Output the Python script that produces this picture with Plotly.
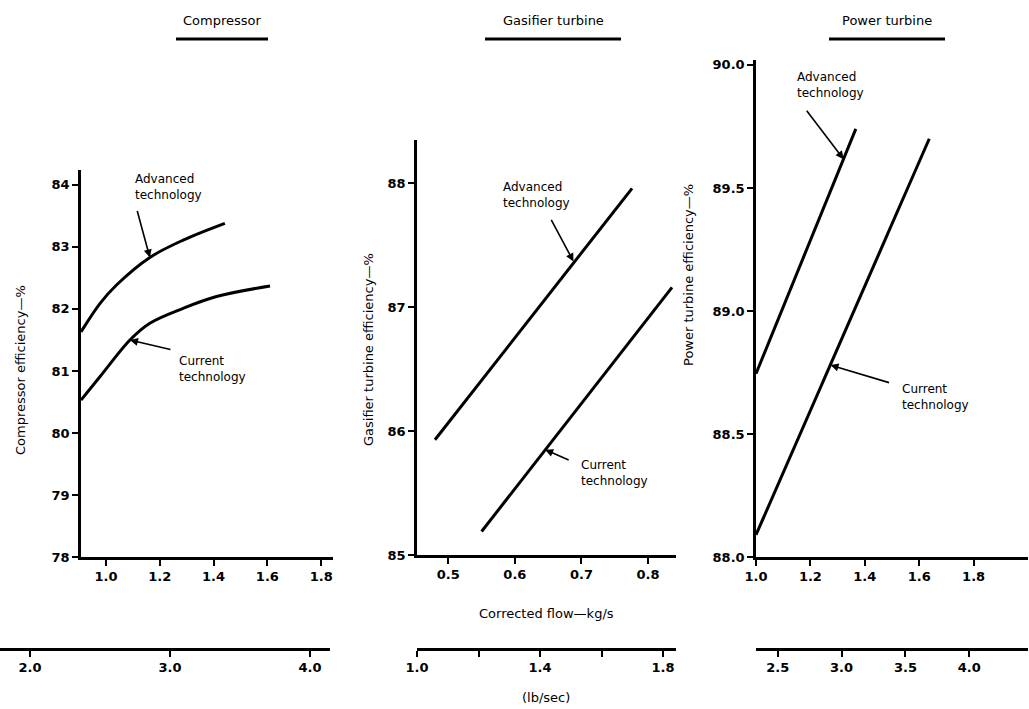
import plotly.graph_objects as go

W, H = 1029, 709

# ---------------- data ----------------
panel_titles = ["Compressor", "Gasifier turbine", "Power turbine"]

# Compressor (corrected flow kg/s vs efficiency %)
comp_adv_x = [0.907, 0.978, 1.04, 1.163, 1.287, 1.442]
comp_adv_y = [81.63, 82.09, 82.39, 82.83, 83.11, 83.38]
comp_cur_x = [0.907, 0.978, 1.089, 1.163, 1.287, 1.411, 1.61]
comp_cur_y = [80.53, 80.91, 81.50, 81.77, 82.01, 82.20, 82.37]

# Gasifier turbine
gas_adv_x = [0.48, 0.776]
gas_adv_y = [85.93, 87.96]
gas_cur_x = [0.55, 0.836]
gas_cur_y = [85.19, 87.16]

# Power turbine
pow_adv_x = [1.0, 1.367]
pow_adv_y = [88.745, 89.74]
pow_cur_x = [1.0, 1.637]
pow_cur_y = [88.09, 89.70]

# tick labels
comp_xticks = [1.0, 1.2, 1.4, 1.6, 1.8]
comp_yticks = [78, 79, 80, 81, 82, 83, 84]
gas_xticks = [0.5, 0.6, 0.7, 0.8]
gas_yticks = [85, 86, 87, 88]
pow_xticks = [1.0, 1.2, 1.4, 1.6, 1.8]
pow_yticks = [88.0, 88.5, 89.0, 89.5, 90.0]
comp_lb_ticks = [2.0, 3.0, 4.0]
gas_lb_ticks = [1.0, 1.2, 1.4, 1.6, 1.8]
gas_lb_text = ["1.0", "", "1.4", "", "1.8"]
pow_lb_ticks = [2.5, 3.0, 3.5, 4.0]

FONT = "DejaVu Sans"
INK = "black"


def px(x):
    return x / W


def py(y):
    return 1 - y / H


fig = go.Figure()

line_style = dict(color=INK, width=3)
fig.add_trace(go.Scatter(x=comp_adv_x, y=comp_adv_y, mode="lines",
                         line=dict(shape="spline", **line_style), xaxis="x", yaxis="y",
                         name="Compressor advanced"))
fig.add_trace(go.Scatter(x=comp_cur_x, y=comp_cur_y, mode="lines",
                         line=dict(shape="spline", **line_style), xaxis="x", yaxis="y",
                         name="Compressor current"))
fig.add_trace(go.Scatter(x=gas_adv_x, y=gas_adv_y, mode="lines", line=line_style,
                         xaxis="x2", yaxis="y2", name="Gasifier advanced"))
fig.add_trace(go.Scatter(x=gas_cur_x, y=gas_cur_y, mode="lines", line=line_style,
                         xaxis="x2", yaxis="y2", name="Gasifier current"))
fig.add_trace(go.Scatter(x=pow_adv_x, y=pow_adv_y, mode="lines", line=line_style,
                         xaxis="x3", yaxis="y3", name="Power advanced"))
fig.add_trace(go.Scatter(x=pow_cur_x, y=pow_cur_y, mode="lines", line=line_style,
                         xaxis="x3", yaxis="y3", name="Power current"))

# invisible traces so the lb/sec axes are drawn
for xa, xv in (("x4", comp_lb_ticks), ("x5", gas_lb_ticks), ("x6", pow_lb_ticks)):
    fig.add_trace(go.Scatter(x=[xv[0]], y=[0], mode="markers", marker=dict(opacity=0),
                             xaxis=xa, yaxis="y4", hoverinfo="skip", showlegend=False))

tickfont = dict(family=FONT, size=13, color=INK, weight="bold")
common = dict(showline=True, linecolor=INK, linewidth=2.5, ticks="outside", ticklen=6,
              tickwidth=2, tickcolor=INK, showgrid=False, zeroline=False,
              tickfont=tickfont, automargin=False, fixedrange=True)

layout = dict(
    width=W, height=H, autosize=False,
    margin=dict(l=0, r=0, t=0, b=0),
    paper_bgcolor="white", plot_bgcolor="white",
    showlegend=False, template="none",
    font=dict(family=FONT, color=INK),
    xaxis=dict(domain=[px(81), px(333)], range=[0.907, 1.844], tickvals=comp_xticks,
               tickformat=".1f", anchor="y", **common),
    yaxis=dict(domain=[py(557), py(170)], range=[78, 84.24], tickvals=comp_yticks,
               anchor="x", **common),
    xaxis2=dict(domain=[px(417), px(676)], range=[0.453, 0.842], tickvals=gas_xticks,
                tickformat=".1f", anchor="y2", **common),
    yaxis2=dict(domain=[py(555), py(140)], range=[85, 88.35], tickvals=gas_yticks,
                anchor="x2", **common),
    xaxis3=dict(domain=[px(756), px(1028)], range=[1.0, 2.0], tickvals=pow_xticks,
                tickformat=".1f", anchor="y3", **common),
    yaxis3=dict(domain=[py(557), py(60)], range=[88, 90.02], tickvals=pow_yticks,
                tickformat=".1f", anchor="x3", **common),
    yaxis4=dict(domain=[py(648), py(640)], range=[-1, 1], visible=False, fixedrange=True),
    xaxis4=dict(domain=[px(0), px(330)], range=[1.786, 4.143], tickvals=comp_lb_ticks,
                tickformat=".1f", anchor="y4", **common),
    xaxis5=dict(domain=[px(417), px(676)], range=[1.0, 1.842], tickvals=gas_lb_ticks,
                ticktext=gas_lb_text, anchor="y4", **common),
    xaxis6=dict(domain=[px(756), px(1028)], range=[2.33, 4.46], tickvals=pow_lb_ticks,
                tickformat=".1f", anchor="y4", **common),
)
fig.update_layout(**layout)

ann = []
shapes = []
centered = dict(xref="paper", yref="paper", xanchor="center", yanchor="middle",
                showarrow=False)
# panel titles with underline
title_pos = [(222, 92), (553, 136), (887, 116)]
for t, (cx, w) in zip(panel_titles, title_pos):
    ann.append(dict(text=t, x=px(cx), y=py(21),
                    font=dict(family=FONT, size=13, color=INK), **centered))
    shapes.append(dict(type="line", xref="paper", yref="paper",
                       x0=px(cx - w / 2), x1=px(cx + w / 2), y0=py(39), y1=py(39),
                       line=dict(color=INK, width=3)))

lab_font = dict(family=FONT, size=12, color=INK)
labels = [
    ("Advanced<br>technology", 168, 187),
    ("Current<br>technology", 212, 369),
    ("Advanced<br>technology", 536, 195),
    ("Current<br>technology", 614, 473),
    ("Advanced<br>technology", 830, 85),
    ("Current<br>technology", 935, 397),
]
for t, x, y in labels:
    ann.append(dict(text=t, x=px(x), y=py(y), font=lab_font, align="left", **centered))

# leader arrows (tip on curve in data coords, tail offset in px)
arrows = [
    ("x", "y", 1.163, 82.83, -13, -48),
    ("x", "y", 1.089, 81.50, 42, 10),
    ("x2", "y2", 0.688, 87.37, -23, -43),
    ("x2", "y2", 0.6455, 85.85, 25, 11),
    ("x3", "y3", 1.322, 89.617, -38, -50),
    ("x3", "y3", 1.274, 88.78, 60, 18),
]
for xr, yr, x, y, ax, ay in arrows:
    ann.append(dict(text="", x=x, y=y, xref=xr, yref=yr, ax=ax, ay=ay,
                    showarrow=True, arrowhead=2, arrowsize=1, arrowwidth=1.6,
                    arrowcolor=INK))

# axis titles
ytitle_font = dict(family=FONT, size=13, color=INK)
ann.append(dict(text="Compressor efficiency—%", x=px(20), y=py(370), textangle=-90,
                font=ytitle_font, **centered))
ann.append(dict(text="Gasifier turbine efficiency—%", x=px(368), y=py(350), textangle=-90,
                font=ytitle_font, **centered))
ann.append(dict(text="Power turbine efficiency—%", x=px(688), y=py(275), textangle=-90,
                font=ytitle_font, **centered))
ann.append(dict(text="Corrected flow—kg/s", x=px(546), y=py(613),
                font=dict(family=FONT, size=13, color=INK), **centered))
ann.append(dict(text="(lb/sec)", x=px(546), y=py(697),
                font=dict(family=FONT, size=13, color=INK), **centered))

fig.update_layout(annotations=ann, shapes=shapes)
fig.write_html("out.html")
